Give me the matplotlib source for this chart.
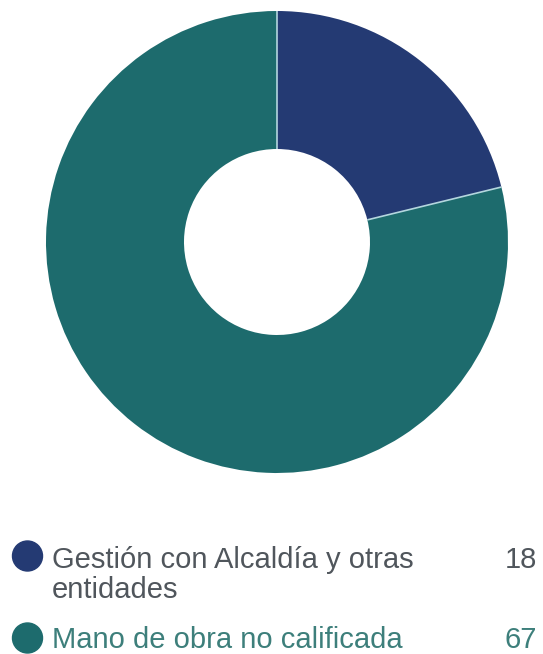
import matplotlib

matplotlib.use("Agg")
import numpy as np
import matplotlib.pyplot as plt
from matplotlib.patches import Circle

labels = [["Gestión con Alcaldía y otras", "entidades"], ["Mano de obra no calificada"]]
values = [18, 67]
colors = ["#243a73", "#1d6b6d"]
text_colors = ["#50565c", "#3d7f7b"]

W, H = 543, 654
fig = plt.figure(figsize=(W / 100, H / 100), dpi=100)
fig.patch.set_facecolor("white")

# donut: centre (277, 242) px, outer radius 231 px, hole radius 93 px
cx, cy, r = 277, 242, 231
hole = 93 / 231
ax = fig.add_axes([(cx - r) / W, (H - cy - r) / H, 2 * r / W, 2 * r / H])
ax.pie(values, colors=colors, startangle=90, counterclock=False, radius=1,
       wedgeprops={"width": 1 - hole, "linewidth": 0})
# thin light separators between slices only (no outline on the rim)
bounds = 90 - 360 * np.cumsum([0] + values[:-1]) / sum(values)
for ang in np.radians(bounds):
    ax.plot([hole * np.cos(ang), np.cos(ang)], [hole * np.sin(ang), np.sin(ang)],
            color="#b4d6de", lw=1.2, solid_capstyle="butt")
ax.set_xlim(-1, 1)
ax.set_ylim(-1, 1)
ax.set_aspect("equal")
ax.axis("off")

# legend drawn in pixel coordinates
lg = fig.add_axes([0, 0, 1, 1])
lg.set_xlim(0, W)
lg.set_ylim(H, 0)
lg.axis("off")
rows_y = [556, 638]
baselines = [568, 648]
line_step = 30
fs = 21
for lines, value, color, tcolor, yc, yb in zip(labels, values, colors, text_colors, rows_y, baselines):
    lg.add_patch(Circle((27.5, yc), 15, color=color))
    for i, line in enumerate(lines):
        lg.text(52, yb + i * line_step, line, fontsize=fs, color=tcolor,
                family="Liberation Sans", va="baseline", ha="left")
    lg.text(537, yb, str(value), fontsize=fs, color=tcolor, family="Liberation Sans",
            va="baseline", ha="right")

fig.savefig("out.png", dpi=100, facecolor="white")
